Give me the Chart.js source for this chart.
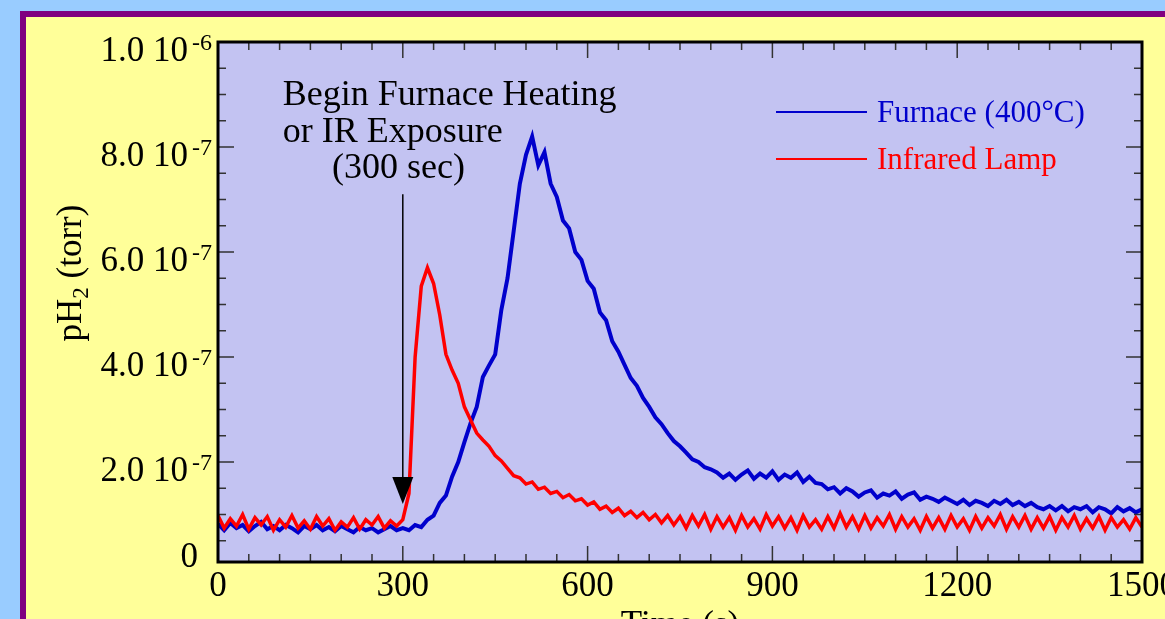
<!DOCTYPE html>
<html>
<head>
<meta charset="utf-8">
<script src="https://cdn.jsdelivr.net/npm/chart.js@4.4.1/dist/chart.umd.min.js"></script>
<style>
html, body { margin: 0; padding: 0; width: 1165px; height: 619px; overflow: hidden; background: #99ccff; }
#panel { position: absolute; left: 20px; top: 11px; width: 1200px; height: 700px; background: #ffff99; border: 6px solid #800080; }
#wrap { position: absolute; left: 0; top: 0; width: 1165px; height: 680px; }
</style>
</head>
<body>
<div id="panel"></div>
<div id="wrap"><canvas id="myChart" width="1165" height="680"></canvas></div>
<script>
// pH2 in units of 1e-7 torr, one sample every 10 s from 0 to 1500 s
const sampleStep = 10;

const furnace = [
    0.82,0.70,0.84,0.74,0.80,0.68,0.78,0.86,0.72,0.78,
    0.70,0.80,0.74,0.66,0.78,0.72,0.80,0.70,0.76,0.68,
    0.78,0.72,0.66,0.76,0.70,0.74,0.66,0.72,0.78,0.70,
    0.74,0.70,0.80,0.76,0.90,0.98,1.22,1.36,1.72,2.00,
    2.38,2.74,3.05,3.62,3.84,4.05,4.90,5.50,6.40,7.30,
    7.85,8.20,7.65,7.90,7.30,7.05,6.60,6.45,6.00,5.85,
    5.45,5.30,4.85,4.70,4.30,4.10,3.85,3.60,3.45,3.22,
    3.05,2.85,2.72,2.55,2.40,2.30,
    2.18,2.05,2.00,1.90,1.86,1.80,1.70,1.78,1.66,1.76,
    1.84,1.68,1.78,1.70,1.82,1.66,1.76,1.70,1.80,1.62,
    1.72,1.60,1.58,1.48,1.52,1.40,1.50,1.44,1.34,1.42,
    1.46,1.32,1.40,1.36,1.44,1.30,1.38,1.42,1.28,1.34,
    1.30,1.24,1.32,1.26,1.20,1.28,1.18,1.26,1.22,1.16,
    1.26,1.20,1.28,1.18,1.24,1.16,1.22,1.14,1.10,1.16,
    1.08,1.16,1.06,1.14,1.10,1.16,1.04,1.14,1.10,1.02,
    1.14,1.06,1.12,1.04,1.10
];

const infrared = [
    0.98,0.74,0.92,0.78,1.00,0.72,0.94,0.80,0.96,0.70,
    0.90,0.76,0.98,0.74,0.88,0.72,0.96,0.78,0.92,0.70,
    0.86,0.76,0.94,0.72,0.90,0.80,0.96,0.74,0.88,0.78,
    0.90,1.40,4.00,5.35,5.70,5.40,4.80,4.05,3.75,3.50,
    3.05,2.80,2.55,2.42,2.30,2.12,2.02,1.88,1.74,1.70,
    1.58,1.62,1.48,1.52,1.40,1.44,1.32,1.38,1.26,1.30,
    1.18,1.24,1.10,1.16,1.04,1.12,0.98,1.06,0.94,1.04,
    0.90,1.00,0.84,0.98,0.80,0.96,
    0.74,0.98,0.78,1.00,0.72,0.96,0.76,0.94,0.70,0.98,
    0.76,0.92,0.72,1.00,0.78,0.96,0.74,0.94,0.70,0.98,
    0.76,0.90,0.72,0.96,0.74,1.02,0.76,0.96,0.72,0.98,
    0.74,0.94,0.78,1.00,0.72,0.96,0.76,0.92,0.70,0.96,
    0.74,0.94,0.72,0.98,0.76,0.92,0.70,0.96,0.74,0.94,
    0.78,1.00,0.72,0.96,0.76,0.98,0.72,0.94,0.74,0.96,
    0.70,0.94,0.76,0.98,0.72,0.92,0.74,0.96,0.70,0.94,
    0.76,0.90,0.72,0.94,0.76
];

const xTicks = [0, 300, 600, 900, 1200, 1500];
const yTickValues = [0, 2, 4, 6, 8, 10];
const yTickMantissa = ['0', '2.0 10', '4.0 10', '6.0 10', '8.0 10', '1.0 10'];
const yTickExponent = ['', '-7', '-7', '-7', '-7', '-6'];

const seriesNames = ['Furnace (400°C)', 'Infrared Lamp'];
const seriesColors = ['#0000cc', '#ff0000'];

const noteLines = ['Begin Furnace Heating', 'or IR Exposure', '(300 sec)'];
const noteTime = 300;      // s
const noteArrowTop = 7.1;  // 1e-7 torr
const noteArrowTip = 1.2;

const serif = '"Liberation Serif", "Times New Roman", serif';

function toPoints(values) {
    return values.map((v, i) => ({ x: i * sampleStep, y: v }));
}

const decor = {
    id: 'decor',
    beforeDatasetsDraw(chart) {
        const { ctx, chartArea: a } = chart;
        ctx.save();
        ctx.fillStyle = '#c3c3f2';
        ctx.fillRect(a.left, a.top, a.right - a.left, a.bottom - a.top);
        ctx.restore();
    },
    afterDraw(chart) {
        const { ctx, chartArea: a, scales: { x, y } } = chart;
        ctx.save();

        // inward tick marks on all four sides
        ctx.strokeStyle = '#333';
        ctx.lineWidth = 1.5;
        ctx.beginPath();
        for (let t = 0; t <= 1500; t += 50) {
            const px = x.getPixelForValue(t);
            const len = t % 300 === 0 ? 16 : 8;
            ctx.moveTo(px, a.bottom); ctx.lineTo(px, a.bottom - len);
            ctx.moveTo(px, a.top); ctx.lineTo(px, a.top + len);
        }
        for (let i = 1; i <= 20; i++) {
            const py = y.getPixelForValue(i * 0.5);
            const len = i % 4 === 0 ? 16 : 8;
            ctx.moveTo(a.left, py); ctx.lineTo(a.left + len, py);
            ctx.moveTo(a.right, py); ctx.lineTo(a.right - len, py);
        }
        ctx.stroke();

        ctx.strokeStyle = '#000';
        ctx.lineWidth = 3;
        ctx.strokeRect(a.left, a.top, a.right - a.left, a.bottom - a.top);

        // y tick labels with exponents
        ctx.fillStyle = '#000';
        ctx.textAlign = 'right';
        ctx.textBaseline = 'alphabetic';
        yTickValues.forEach((v, i) => {
            const py = y.getPixelForValue(v);
            const exp = yTickExponent[i];
            if (exp) {
                const base = py + 19;
                ctx.font = '24px ' + serif;
                ctx.fillText(exp, a.left - 6, base - 11);
                const ew = ctx.measureText(exp).width;
                ctx.font = '35px ' + serif;
                ctx.fillText(yTickMantissa[i], a.left - 10 - ew, base);
            } else {
                ctx.font = '35px ' + serif;
                ctx.fillText(yTickMantissa[i], a.left - 20, Math.min(py, a.bottom) + 5);
            }
        });

        // y axis title: pH2 (torr)
        ctx.save();
        ctx.translate(81, (a.top + a.bottom) / 2 - 29);
        ctx.rotate(-Math.PI / 2);
        ctx.textAlign = 'left';
        ctx.font = '35px ' + serif;
        const w1 = ctx.measureText('pH').width;
        const w3 = ctx.measureText(' (torr)').width;
        ctx.font = '23px ' + serif;
        const w2 = ctx.measureText('2').width;
        const sx = -(w1 + w2 + w3) / 2;
        ctx.font = '35px ' + serif;
        ctx.fillText('pH', sx, 0);
        ctx.font = '23px ' + serif;
        ctx.fillText('2', sx + w1, 7);
        ctx.font = '35px ' + serif;
        ctx.fillText(' (torr)', sx + w1 + w2, 0);
        ctx.restore();

        // legend
        ctx.textAlign = 'left';
        ctx.font = '31px ' + serif;
        seriesNames.forEach((name, i) => {
            const ly = a.top + 70 + i * 47;
            ctx.strokeStyle = seriesColors[i];
            ctx.lineWidth = 2;
            ctx.beginPath();
            ctx.moveTo(a.right - 366, ly); ctx.lineTo(a.right - 275, ly);
            ctx.stroke();
            ctx.fillStyle = seriesColors[i];
            ctx.fillText(name, a.right - 265, ly + 10);
        });

        // annotation
        ctx.fillStyle = '#000';
        ctx.font = '36px ' + serif;
        const nx = x.getPixelForValue(105);
        ctx.fillText(noteLines[0], nx, y.getPixelForValue(8.8));
        ctx.fillText(noteLines[1], nx, y.getPixelForValue(8.1));
        ctx.textAlign = 'center';
        ctx.fillText(noteLines[2], x.getPixelForValue(293), y.getPixelForValue(7.41));

        const ax = x.getPixelForValue(noteTime);
        const tip = y.getPixelForValue(noteArrowTip);
        ctx.strokeStyle = '#000';
        ctx.lineWidth = 1.5;
        ctx.beginPath();
        ctx.moveTo(ax, y.getPixelForValue(noteArrowTop));
        ctx.lineTo(ax, tip - 20);
        ctx.stroke();
        ctx.beginPath();
        ctx.moveTo(ax - 10.5, tip - 27);
        ctx.lineTo(ax + 10.5, tip - 27);
        ctx.lineTo(ax, tip);
        ctx.closePath();
        ctx.fill();

        ctx.restore();
    }
};

const ctx = document.getElementById('myChart').getContext('2d');

new Chart(ctx, {
    type: 'line',
    data: {
        datasets: [
            {
                label: seriesNames[0],
                data: toPoints(furnace),
                borderColor: seriesColors[0],
                borderWidth: 4,
                order: 1
            },
            {
                label: seriesNames[1],
                data: toPoints(infrared),
                borderColor: seriesColors[1],
                borderWidth: 3.5,
                order: 0
            }
        ]
    },
    options: {
        responsive: false,
        animation: false,
        devicePixelRatio: 1,
        layout: { padding: { left: 0, top: 42, right: 23, bottom: 0 } },
        elements: {
            point: { radius: 0 },
            line: { tension: 0, borderJoinStyle: 'miter', fill: false }
        },
        scales: {
            x: {
                type: 'linear',
                position: 'bottom',
                min: 0,
                max: 1500,
                grid: { display: false, drawTicks: false },
                border: { display: false },
                afterBuildTicks: s => { s.ticks = xTicks.map(v => ({ value: v })); },
                afterFit: s => { s.height = 680 - 562; s.paddingLeft = 0; s.paddingRight = 0; },
                ticks: {
                    autoSkip: false,
                    maxRotation: 0,
                    padding: 4,
                    color: '#000',
                    font: { family: serif, size: 35 },
                    callback: v => String(v)
                },
                title: {
                    display: true,
                    text: 'Time (s)',
                    color: '#000',
                    font: { family: serif, size: 35 },
                    padding: { top: 0, bottom: 33 }
                }
            },
            y: {
                min: 0.095,
                max: 10,
                grid: { display: false, drawTicks: false },
                border: { display: false },
                ticks: { display: false },
                afterFit: s => { s.width = 218; s.paddingTop = 0; s.paddingBottom = 0; }
            }
        },
        plugins: {
            legend: { display: false },
            tooltip: { enabled: false }
        }
    },
    plugins: [decor]
});
</script>
</body>
</html>
